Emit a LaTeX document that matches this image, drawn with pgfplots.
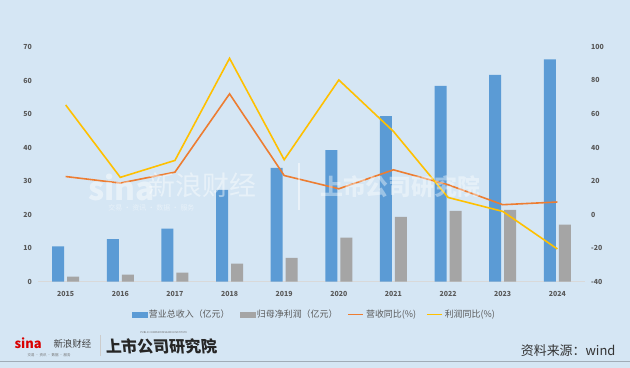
\documentclass[border=0pt]{standalone}
\usepackage{fontspec}
\setmainfont{Noto Sans CJK SC}
\usepackage{pgfplots}
\pgfplotsset{compat=1.18}
\definecolor{bg}{RGB}{213,230,244}
\definecolor{cblue}{RGB}{91,155,213}
\definecolor{cgrey}{RGB}{165,165,165}
\definecolor{corange}{RGB}{237,125,49}
\definecolor{cyellow}{RGB}{255,192,0}
\definecolor{ticktext}{RGB}{89,89,89}
\begin{document}
\begin{tikzpicture}[x=1bp,y=1bp]
\fill[bg] (0,0) rectangle (630,368);
\begin{axis}[
  at={(38bp,86bp)}, anchor=south west, scale only axis,
  width=547bp, height=235bp,
  xmin=-0.5, xmax=9.5, ymin=0, ymax=70,
  xtick={0,...,9},
  xticklabels={2015,2016,2017,2018,2019,2020,2021,2022,2023,2024},
  ytick={0,10,...,70},
  axis x line*=bottom, axis y line*=left,
  x axis line style={draw=black!15, -},
  y axis line style={draw=none},
  major tick length=0pt,
  /pgf/number format/assume math mode=true,
  ticklabel style={font=\fontsize{7}{8}\selectfont\bfseries, text=ticktext},
  yticklabel style={anchor=east, xshift=-3bp},
  xticklabel style={yshift=-6bp},
  clip=false,
]
\addplot[ybar, bar width=12bp, bar shift=-7.5bp, fill=cblue, draw=none] coordinates {
(0,10.5) (1,12.7) (2,15.8) (3,27.4) (4,33.9) (5,39.2) (6,49.4) (7,58.4) (8,61.7) (9,66.3)};
\addplot[ybar, bar width=12bp, bar shift=7.5bp, fill=cgrey, draw=none] coordinates {
(0,1.5) (1,2.1) (2,2.7) (3,5.4) (4,7.1) (5,13.1) (6,19.3) (7,21.1) (8,21.4) (9,17.0)};
\end{axis}
\begin{axis}[
  at={(38bp,86bp)}, anchor=south west, scale only axis,
  width=547bp, height=235bp,
  xmin=-0.5, xmax=9.5, ymin=-40, ymax=100,
  ytick={-40,-20,...,100},
  axis y line*=right, axis x line=none,
  y axis line style={draw=none},
  major tick length=0pt,
  /pgf/number format/assume math mode=true,
  ticklabel style={font=\fontsize{7}{8}\selectfont\bfseries, text=ticktext},
  yticklabel style={anchor=west, xshift=3bp},
  legend style={at={(0.505,-0.14)}, anchor=center, legend columns=4, draw=none, fill=none,
    font=\fontsize{9}{10}\selectfont, text=ticktext,
    /tikz/every even column/.append style={column sep=8bp}},
  legend cell align=left,
]
\addlegendimage{legend image code/.code={\fill[cblue] (0,-2.5bp) rectangle (15bp,2.5bp);}}
\addlegendentry{营业总收入（亿元）}
\addlegendimage{legend image code/.code={\fill[cgrey] (0,-2.5bp) rectangle (15bp,2.5bp);}}
\addlegendentry{归母净利润（亿元）}
\addlegendimage{legend image code/.code={\draw[corange, line width=1.6bp] (0,0) -- (15bp,0);}}
\addlegendentry{营收同比(\%)}
\addlegendimage{legend image code/.code={\draw[cyellow, line width=1.6bp] (0,0) -- (15bp,0);}}
\addlegendentry{利润同比(\%)}
\addplot[corange, line width=1.6bp, mark=none, forget plot] coordinates {
(0,22.7) (1,18.8) (2,25.3) (3,72) (4,23.3) (5,15.4) (6,26.7) (7,17.8) (8,5.9) (9,7.5)};
\addplot[cyellow, line width=1.6bp, mark=none, forget plot] coordinates {
(0,65.4) (1,22.2) (2,32.3) (3,93.2) (4,32.7) (5,80.3) (6,49.6) (7,10.2) (8,1.9) (9,-20.5)};
\end{axis}
% watermark
\node[anchor=west, text=white, opacity=0.45, font=\fontsize{32}{32}\selectfont\bfseries\itshape, inner sep=0] at (88,180) {sina};
\node[anchor=west, text=white, opacity=0.45, font=\fontsize{27}{27}\selectfont, inner sep=0] at (148,182) {新浪财经};
\node[anchor=west, text=white, opacity=0.45, font=\fontsize{7}{7}\selectfont, inner sep=0] at (108,160) {交易 · 资讯 · 数据 · 服务};
\draw[white, opacity=0.5, line width=1.2bp] (299,158) -- (299,205);
\node[anchor=west, text=white, opacity=0.4, font=\fontsize{23}{23}\selectfont\bfseries, inner sep=0] at (320,181) {上市公司研究院};
% footer
\node[anchor=west, text=red!85!black, font=\fontsize{13}{13}\selectfont\bfseries\itshape, inner sep=0] at (14,24) {sina};
\node[anchor=west, text=black!75, font=\fontsize{9.5}{10}\selectfont, inner sep=0] at (53,24) {新浪财经};
\node[anchor=west, text=black!55, font=\fontsize{3.5}{4}\selectfont, inner sep=0] at (27,12) {交易 · 资讯 · 数据 · 服务};
\draw[black!20, line width=0.6bp] (100,12) -- (100,33);
\node[anchor=west, text=black!85, font=\fontsize{16}{16}\selectfont\bfseries, inner sep=0, xslant=-0.1] at (105,21) {上市公司研究院};
\node[anchor=west, text=black!60, font=\fontsize{2.5}{3}\selectfont, inner sep=0] at (140,35) {PUBLIC COMPANY RESEARCH INSTITUTE};
\node[anchor=east, text=black!80, font=\fontsize{13}{13}\selectfont, inner sep=0] at (616,17) {资料来源：wind};
\draw[black!25!bg, line width=0.8bp] (0,6) -- (630,6);
\end{tikzpicture}
\end{document}
